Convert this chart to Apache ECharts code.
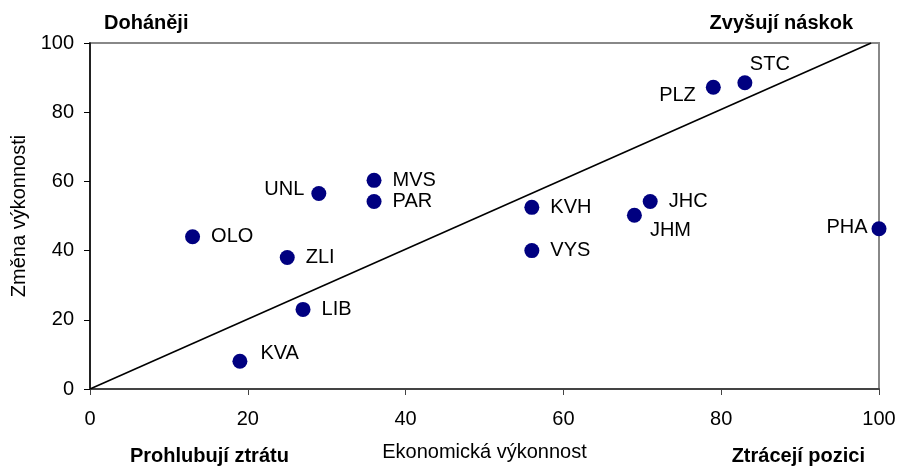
<!DOCTYPE html>
<html>
<head>
<meta charset="utf-8">
<script src="https://cdn.jsdelivr.net/npm/echarts@6/dist/echarts.min.js"></script>
<style>
html,body{margin:0;padding:0;background:#fff;}
#chart{width:899px;height:467px;}
</style>
</head>
<body>
<div id="chart"></div>
<script>
// Data
var regions = ['KVA','LIB','OLO','ZLI','UNL','MVS','PAR','KVH','VYS','JHM','JHC','PHA','PLZ','STC'];
var economicPerf = [19, 27, 13, 25, 29, 36, 36, 56, 56, 69, 71, 100, 79, 83];
var perfChange = [8, 23, 44, 38, 56.5, 60.3, 54.2, 52.5, 40, 50.2, 54.2, 46.3, 87.2, 88.5];
var diagonalX = [0, 99];
var diagonalY = [0, 100];
var axisTicks = [0, 20, 40, 60, 80, 100];
var xAxisName = 'Ekonomická výkonnost';
var yAxisName = 'Změna výkonnosti';
var cornerTexts = ['Doháněji', 'Zvyšují náskok', 'Prohlubují ztrátu', 'Ztrácejí pozici'];

var FONT = '"Liberation Sans", Arial, sans-serif';

// label placement per region (style)
var labelStyle = {
  UNL: {position: 'left', distance: 7, offset: [0, -4]},
  PHA: {position: 'left', distance: 4, offset: [0, -1]},
  PLZ: {position: 'left', distance: 10, offset: [0, 8]},
  STC: {position: 'top', distance: 1, offset: [25, 0]},
  JHM: {position: 'right', distance: 8, offset: [0, 15]},
  KVA: {position: 'right', distance: 13, offset: [0, -8]}
};

var points = regions.map(function (name, i) {
  var item = {name: name, value: [economicPerf[i], perfChange[i]]};
  if (labelStyle[name]) item.label = labelStyle[name];
  return item;
});
var diagonal = diagonalX.map(function (x, i) { return [x, diagonalY[i]]; });

var chart = echarts.init(document.getElementById('chart'), null, {renderer: 'canvas'});
var axisCommon = {
  type: 'value',
  min: axisTicks[0],
  max: axisTicks[axisTicks.length - 1],
  interval: axisTicks[1] - axisTicks[0],
  splitLine: {show: false},
  nameLocation: 'middle',
  nameTextStyle: {fontFamily: FONT, fontSize: 20, color: '#000'},
  axisLabel: {fontFamily: FONT, fontSize: 20, color: '#000'},
  axisTick: {show: true, inside: false, length: 5}
};
chart.setOption({
  animation: false,
  backgroundColor: '#fff',
  grid: {left: 90, right: 20, top: 43, bottom: 73, show: true, borderColor: '#888', borderWidth: 2, backgroundColor: 'transparent'},
  xAxis: Object.assign({}, axisCommon, {
    name: xAxisName,
    nameGap: 53,
    axisLine: {show: true, onZero: false, lineStyle: {color: '#444', width: 2}},
    axisTick: {show: true, length: 6, lineStyle: {color: '#444', width: 1}},
    axisLabel: {fontFamily: FONT, fontSize: 20, color: '#000', margin: 20}
  }),
  yAxis: Object.assign({}, axisCommon, {
    name: yAxisName,
    nameGap: 56,
    axisLine: {show: true, onZero: false, lineStyle: {color: '#000', width: 1.5}},
    axisTick: {show: true, length: 6, lineStyle: {color: '#000', width: 1}},
    axisLabel: {fontFamily: FONT, fontSize: 20, color: '#000', margin: 16}
  }),
  series: [
    {
      type: 'line',
      data: diagonal,
      symbol: 'none',
      lineStyle: {color: '#000', width: 1.6},
      silent: true,
      z: 1
    },
    {
      type: 'scatter',
      data: points,
      symbol: 'circle',
      symbolSize: 15,
      itemStyle: {color: '#000080', opacity: 1},
      label: {
        show: true,
        position: 'right',
        distance: 11,
        formatter: '{b}',
        fontFamily: FONT,
        fontSize: 20,
        color: '#000'
      },
      z: 3
    }
  ],
  graphic: [
    {type: 'text', left: 104, top: 13, style: {text: cornerTexts[0], font: 'bold 20px ' + FONT, fill: '#000'}},
    {type: 'text', right: 46, top: 13, style: {text: cornerTexts[1], font: 'bold 20px ' + FONT, fill: '#000'}},
    {type: 'text', left: 130, top: 446, style: {text: cornerTexts[2], font: 'bold 20px ' + FONT, fill: '#000'}},
    {type: 'text', right: 34, top: 446, style: {text: cornerTexts[3], font: 'bold 20px ' + FONT, fill: '#000'}}
  ]
});
</script>
</body>
</html>
